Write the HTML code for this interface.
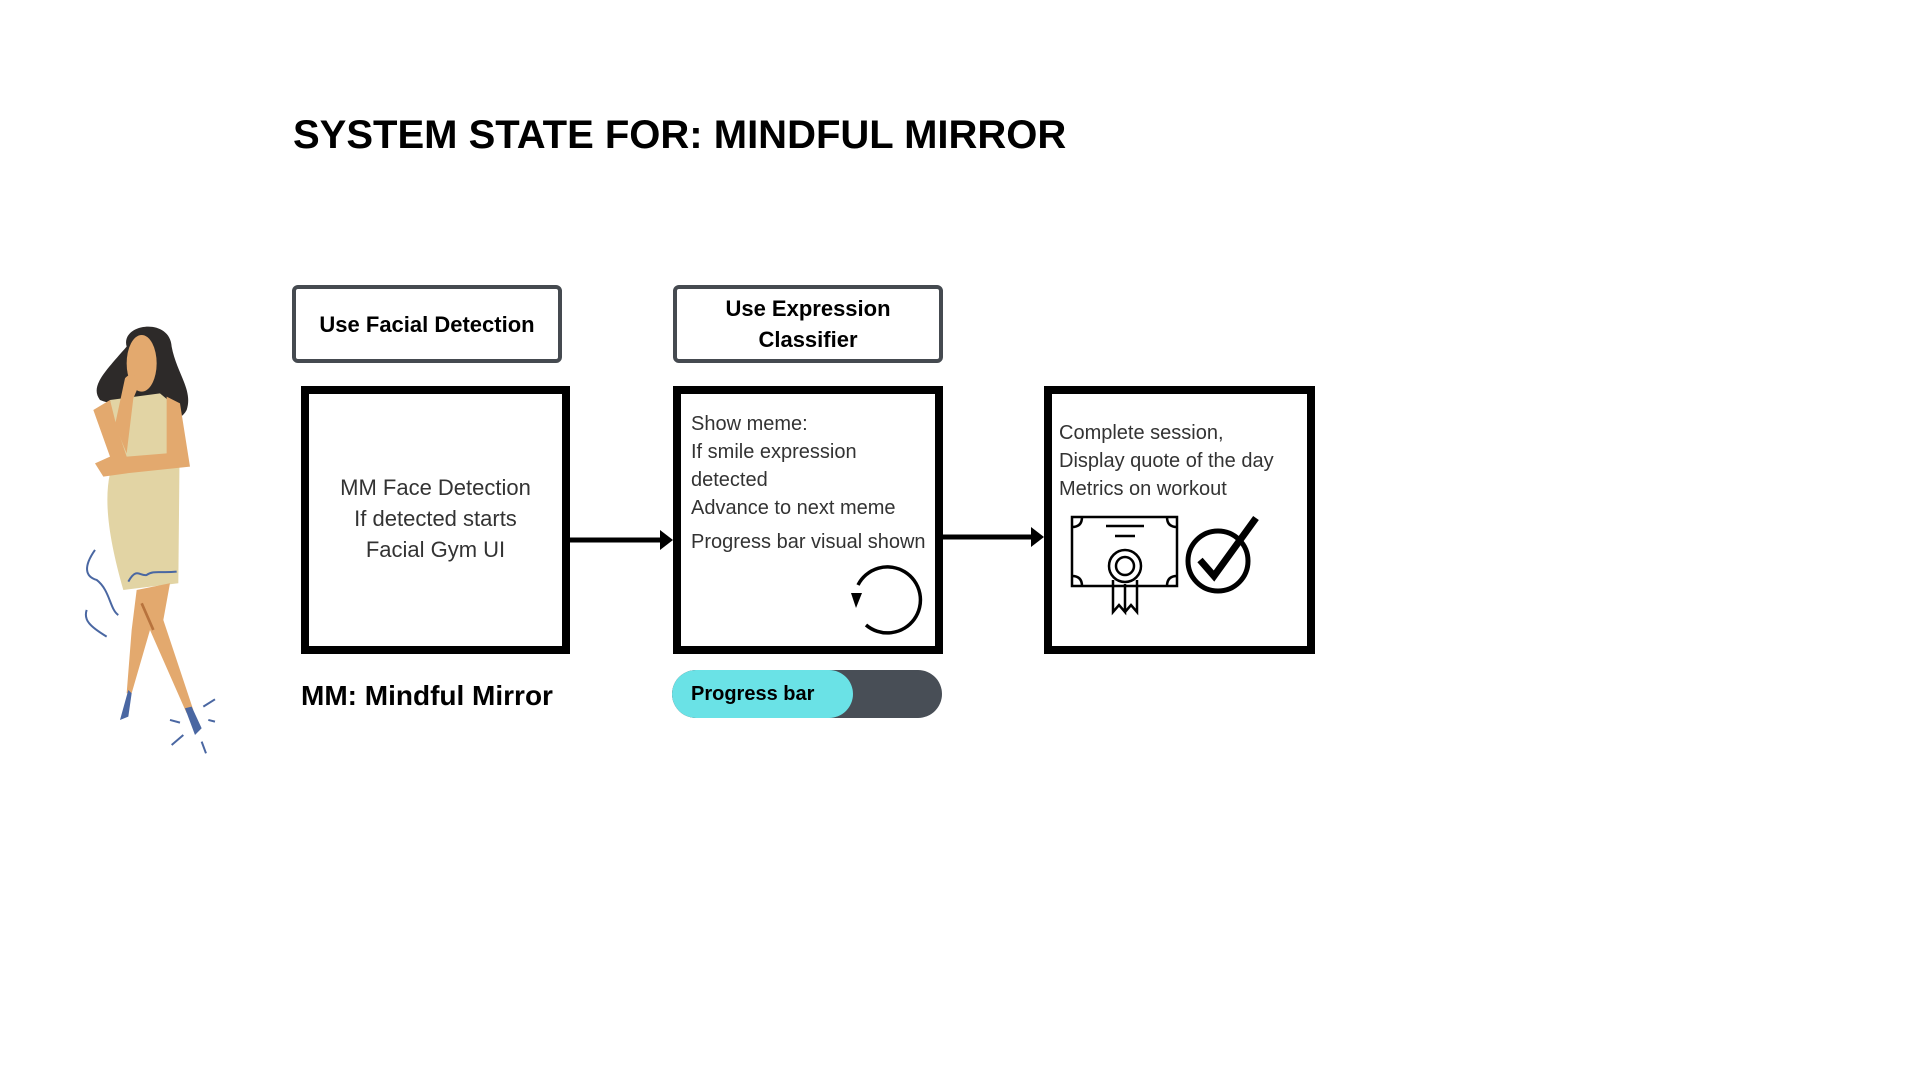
<!DOCTYPE html>
<html><head><meta charset="utf-8"><style>
body{margin:0;width:1920px;height:1080px;background:#fff;position:relative;overflow:hidden;font-family:"Liberation Sans",sans-serif;color:#000}
.a{position:absolute}
.title{left:293px;top:113px;font-size:40px;font-weight:bold;letter-spacing:0;white-space:nowrap}
.lbl{border:4px solid #454a50;border-radius:6px;box-sizing:border-box;display:flex;align-items:center;justify-content:center;text-align:center;font-weight:bold;font-size:22px;line-height:31px}
.box{border:8px solid #000;box-sizing:border-box}
.t{font-size:20px;color:#333;white-space:nowrap}
</style></head><body>
<div class="a title">SYSTEM STATE FOR: MINDFUL MIRROR</div>

<div class="a lbl" style="left:292px;top:285px;width:270px;height:78px">Use Facial Detection</div>
<div class="a lbl" style="left:673px;top:285px;width:270px;height:78px">Use Expression<br>Classifier</div>

<div class="a box" style="left:301px;top:386px;width:269px;height:268px"></div>
<div class="a box" style="left:673px;top:386px;width:270px;height:268px"></div>
<div class="a box" style="left:1044px;top:386px;width:271px;height:268px"></div>

<div class="a t" style="left:301px;width:269px;top:472px;text-align:center;font-size:22px;line-height:31px">MM Face Detection<br>If detected starts<br>Facial Gym UI</div>
<div class="a t" style="left:691px;top:410px;line-height:28px">Show meme:<br>If smile expression<br>detected<br>Advance to next meme</div>
<div class="a t" style="left:691px;top:531px">Progress bar visual shown</div>
<div class="a t" style="left:1059px;top:419px;line-height:28px">Complete session,<br>Display quote of the day<br>Metrics on workout</div>

<div class="a" style="left:301px;top:680px;font-size:28px;font-weight:bold">MM: Mindful Mirror</div>

<div class="a" style="left:672px;top:670px;width:270px;height:48px;border-radius:24px;background:#484e56;overflow:hidden">
<div style="width:181px;height:48px;background:#6ae2e6;border-radius:24px"></div></div>
<div class="a" style="left:691px;top:683px;font-size:20px;font-weight:bold">Progress bar</div>

<svg class="a" style="left:0;top:0" width="1920" height="1080">
<g stroke="#000" stroke-width="5" fill="none">
<line x1="570" y1="540" x2="662" y2="540"/>
<line x1="943" y1="537" x2="1033" y2="537"/>
</g>
<polygon points="660,530 673,540 660,550" fill="#000"/>
<polygon points="1031,527 1044,537 1031,547" fill="#000"/>
<path d="M858,585 A33,33 0 1 1 866,625" stroke="#000" stroke-width="3.5" fill="none"/>
<polygon points="851,593 862,593 856,608" fill="#000"/>
<g stroke="#000" stroke-width="2.5" fill="none">
<path d="M1072,517 H1177 V586 H1072 Z"/>
<path d="M1072,527 q10,0 10,-10 M1167,517 q0,10 10,10 M1072,576 q10,0 10,10 M1177,576 q-10,0 -10,10"/>
<line x1="1106" y1="526" x2="1144" y2="526"/><line x1="1115" y1="536" x2="1135" y2="536"/>
<circle cx="1125" cy="566" r="16"/><circle cx="1125" cy="566" r="9"/>
<path d="M1113,580 V612 L1119,605 L1125,612 V584 M1137,580 V612 L1131,605 L1125,612"/>
</g>
<circle cx="1218" cy="561" r="30" stroke="#000" stroke-width="5" fill="none"/>
<path d="M1200,560 L1214,576 L1256,518" stroke="#000" stroke-width="7" fill="none"/>
<g transform="translate(60,310) scale(0.3333)">
<path d="M200,110 C180,40 330,20 335,110 C350,190 400,240 380,300 C360,340 300,340 290,310 C220,280 170,290 120,270 C90,230 130,190 200,110Z" fill="#2d2a29"/>
<ellipse cx="245" cy="160" rx="45" ry="85" fill="#e3a96e"/>
<path d="M150,270 L300,250 L360,300 L355,820 L190,840 C150,700 130,580 150,490 L170,440Z" fill="#e2d4a4"/>
<path d="M230,840 L330,820 L310,930 L400,1200 L380,1210 L270,960 L215,1150 L200,1150 L215,960Z" fill="#e3a96e"/>
<path d="M100,300 L150,270 L170,350 L200,440 L320,430 L320,260 L360,280 L390,470 L200,490 L130,500 L105,460 L150,440 Z" fill="#e3a96e"/>
<path d="M195,205 C210,185 240,195 235,230 L220,265 L200,430 L165,345 Z" fill="#e3a96e"/>
<path d="M205,1140 L215,1150 L205,1220 L180,1230 Z" fill="#4a67a2"/>
<path d="M375,1195 L395,1190 L425,1255 L405,1275 Z" fill="#4a67a2"/>
<g stroke="#4a67a2" stroke-width="6" fill="none">
<path d="M205,815 C230,770 240,800 260,795 C280,780 300,790 350,785"/>
<path d="M105,720 C70,770 75,800 110,810 C150,840 150,900 175,915"/>
<path d="M80,900 C70,930 90,950 140,980"/>
<path d="M430,1190 L465,1168 M445,1230 L465,1235 M330,1230 L360,1238 M335,1305 L370,1275 M425,1295 L438,1330"/>
</g>
<path d="M245,880 L280,960" stroke="#b8733d" stroke-width="8"/>
</g>
</svg>
</body></html>
